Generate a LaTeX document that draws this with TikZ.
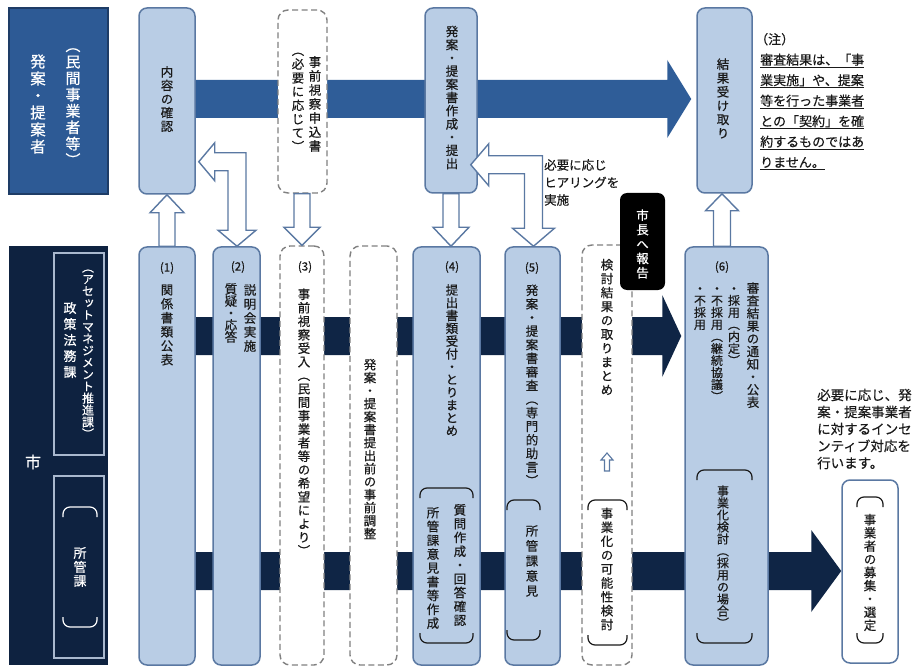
\documentclass[tikz,border=0pt]{standalone}
\usepackage{fontspec}
\setmainfont[FakeBold=0.5]{Noto Sans CJK JP}
\newfontfamily\vjp[RawFeature=+vert,FakeBold=0.5]{Noto Sans CJK JP}
\usetikzlibrary{calc}
\pgfdeclarelayer{bg}
\pgfsetlayers{bg,main}
\definecolor{lbf}{HTML}{B9CDE5}
\definecolor{bdc}{HTML}{5A78A2}
\definecolor{dgc}{HTML}{808080}
\definecolor{txc}{HTML}{1A1A1A}
\definecolor{hdf}{HTML}{2D5A95}
\definecolor{hdb}{HTML}{1E3C66}
\definecolor{nvf}{HTML}{0E2240}
\definecolor{ibc}{HTML}{A9B8CE}
\definecolor{tbar}{HTML}{2F5D98}
\definecolor{nbar}{HTML}{0F2545}
\newdimen\vtpitch
\newcommand\vtend{VTEND}
\newcommand\vtloop[1]{\ifx\vtend#1\else\hbox to 1em{\hss#1\hss}\expandafter\vtloop\fi}
\newcommand\vt[2][1.08em]{\vjp\vtpitch=#1\relax\vbox{\baselineskip=\vtpitch\lineskiplimit=-100pt\lineskip=0pt\vtloop#2\vtend}}
% outline arrows
\newcommand\oup[6][]{\draw[oarr,#1] let \p1=(#2), \p2=(#3) in (\x2-#4pt,\y1) -- (\x2-#4pt,\y2-#6pt) -- (\x2-#5pt,\y2-#6pt) -- (\x2,\y2) -- (\x2+#5pt,\y2-#6pt) -- (\x2+#4pt,\y2-#6pt) -- (\x2+#4pt,\y1) -- cycle;}
\newcommand\odown[6][]{\draw[oarr,#1] let \p1=(#2), \p2=(#3) in (\x2-#4pt,\y1) -- (\x2-#4pt,\y2+#6pt) -- (\x2-#5pt,\y2+#6pt) -- (\x2,\y2) -- (\x2+#5pt,\y2+#6pt) -- (\x2+#4pt,\y2+#6pt) -- (\x2+#4pt,\y1) -- cycle;}
\newcommand\obent[5]{\draw[oarr] let \p1=(#1), \p2=(#2) in (\x2,\y2) -- (\x2+#5pt,\y2+#4pt) -- (\x2+#5pt,\y2+#3pt) -- (\x1+#3pt,\y2+#3pt) -- (\x1+#3pt,\y1+#5pt) -- (\x1+#4pt,\y1+#5pt) -- (\x1,\y1) -- (\x1-#4pt,\y1+#5pt) -- (\x1-#3pt,\y1+#5pt) -- (\x1-#3pt,\y2-#3pt) -- (\x2+#5pt,\y2-#3pt) -- (\x2+#5pt,\y2-#4pt) -- cycle;}
% bracket pair
\newcommand\brkpair[5][]{\draw[brk,#1] (#2,#3+10) -- (#2,#3) -- (#4,#3) -- (#4,#3+10); \draw[brk,#1] (#2,#5-10) -- (#2,#5) -- (#4,#5) -- (#4,#5-10);}
\begin{document}
\begin{tikzpicture}[x=1pt,y=-1pt,
  lbox/.style={draw=bdc, fill=lbf, line width=1.5pt, rounded corners=8pt, inner sep=0pt},
  dbox/.style={draw=dgc, fill=white, line width=1.4pt, dash pattern=on 6pt off 3.5pt, rounded corners=10pt, inner sep=0pt},
  vtx/.style={inner sep=0pt, text=txc, font=\fontsize{12.5}{15}\selectfont},
  wtx/.style={vtx, text=white},
  lbl/.style={inner sep=0pt, text=txc, font=\fontsize{11.5}{13}\selectfont},
  note/.style={inner sep=0pt, text=txc, align=left, anchor=west},
  oarr/.style={draw=bdc, fill=white, line width=1.4pt, line join=miter},
  brk/.style={draw=txc, line width=1.2pt, rounded corners=7pt},
]
\useasboundingbox (0,0) rectangle (914,666);

% ---- header left boxes
\node[draw=hdb, fill=hdf, line width=1.5pt, minimum width=99, minimum height=186, inner sep=0pt] (hA) at (58.5,101) {};
\node[wtx, font=\fontsize{15.5}{18}\selectfont] (hA1) at (38,104) {\vt[17pt]{発案・提案者}};
\node[wtx, font=\fontsize{15}{18}\selectfont] (hA2) at (73,107) {\vt[16.4pt]{︵民間事業者等︶}};

\node[fill=nvf, minimum width=99, minimum height=419, inner sep=0pt] (hB) at (58.5,455.5) {};
\node[draw=ibc, line width=1.5pt, minimum width=50, minimum height=202, inner sep=0pt] (s1) at (79,354) {};
\node[draw=ibc, line width=1.5pt, minimum width=50, minimum height=182, inner sep=0pt] (s2) at (79,567) {};
\node[wtx, font=\fontsize{12}{14}\selectfont] (s1a) at (88,354) {\vt[11.9pt]{︵アセットマネジメント推進課︶}};
\node[wtx, font=\fontsize{13}{15}\selectfont] (s1b) at (70,340) {\vt[16pt]{政策法務課}};
\node[wtx, font=\fontsize{16}{18}\selectfont] (city) at (33,462) {市};
\node[wtx, font=\fontsize{13}{15}\selectfont] (s2a) at (80,567) {\vt[14pt]{所管課}};
\brkpair[draw=white]{63}{507}{97}{627}

% ---- top row
\node[lbox, minimum width=56, minimum height=186] (t1) at (167,101) {};
\node[vtx] (t1x) at (167,99) {\vt[13.6pt]{内容の確認}};
\node[dbox, minimum width=49, minimum height=183] (t2) at (302.5,101.5) {};
\node[vtx] (t2a) at (315,104) {\vt[14pt]{事前視察申込書}};
\node[vtx] (t2b) at (298,102) {\vt[13.75pt]{︵必要に応じて︶}};
\node[lbox, minimum width=52, minimum height=185] (t3) at (451,100.5) {};
\node[vtx] (t3x) at (452,97.5) {\vt[13.2pt]{発案・提案書作成・提出}};
\node[lbox, minimum width=55, minimum height=185] (t4) at (724.5,100.5) {};
\node[vtx] (t4x) at (723,98.5) {\vt[13.8pt]{結果受け取り}};

% ---- bottom row
\node[lbox, minimum width=56, minimum height=418] (b1) at (167,456) {};
\node[lbox, minimum width=47, minimum height=418] (b2) at (236.5,456) {};
\node[dbox, minimum width=44, minimum height=419] (b3) at (302,455.5) {};
\node[dbox, minimum width=47, minimum height=419] (bd) at (373.5,455.5) {};
\node[lbox, minimum width=67, minimum height=418] (b4) at (446.5,456) {};
\node[lbox, minimum width=55, minimum height=418] (b5) at (532.5,456) {};
\node[dbox, minimum width=50, minimum height=420] (bk) at (607,455) {};
\node[fill=black, rounded corners=7pt, minimum width=45, minimum height=97, inner sep=0pt] (mayor) at (642.5,241.5) {};
\node[lbox, minimum width=83, minimum height=418] (b6) at (726.5,456) {};
\node[draw=bdc, fill=white, line width=1.5pt, rounded corners=8pt, minimum width=56, minimum height=183, inner sep=0pt] (b7) at (870,571.5) {};

% bars behind
\begin{pgfonlayer}{bg}
\coordinate (r1s) at (160,336);
\coordinate (r2s) at (160,571);
\fill[tbar] let \p1=($(t1.east)+(0,-2)$), \p2=($(t4.west)+(-5,0)$) in
  (\x1,\y1+19pt) -- (\x2-24pt,\y1+19pt) -- (\x2-24pt,\y1+39pt) -- (\x2,\y1) -- (\x2-24pt,\y1-39pt) -- (\x2-24pt,\y1-19pt) -- (\x1,\y1-19pt) -- cycle;
\fill[nbar] let \p1=(r1s), \p2=($(b6.west)+(-3,0)$) in
  (\x1,\y1+19pt) -- (\x2-19pt,\y1+19pt) -- (\x2-19pt,\y1+41pt) -- (\x2,\y1) -- (\x2-19pt,\y1-41pt) -- (\x2-19pt,\y1-19pt) -- (\x1,\y1-19pt) -- cycle;
\fill[nbar] let \p1=(r2s), \p2=(b7.west) in
  (\x1,\y1+19pt) -- (\x2-30pt,\y1+19pt) -- (\x2-30pt,\y1+41pt) -- (\x2,\y1) -- (\x2-30pt,\y1-41pt) -- (\x2-30pt,\y1-19pt) -- (\x1,\y1-19pt) -- cycle;
\end{pgfonlayer}

% ---- bottom texts
\node[lbl] (b1n) at (167,268) {(1)};
\node[vtx] (b1x) at (167,325) {\vt[14pt]{関係書類公表}};
\node[lbl] (b2n) at (238,267) {(2)};
\node[vtx] (b2a) at (250,318) {\vt[14pt]{説明会実施}};
\node[vtx] (b2b) at (231,313) {\vt[12pt]{質疑・応答}};
\node[lbl] (b3n) at (305,267) {(3)};
\node[vtx] (b3x) at (304,422) {\vt[13.5pt]{事前視察受入︵民間事業者等の希望により︶}};
\node[vtx] (bdx) at (370,449) {\vt[13pt]{発案・提案書提出前の事前調整}};
\node[lbl] (b4n) at (452,267) {(4)};
\node[vtx] (b4x) at (452,360) {\vt[12.8pt]{提出書類受付・とりまとめ}};
\brkpair{420}{488}{473}{643}
\node[vtx] (b4a) at (460,565) {\vt[13.8pt]{質問作成・回答確認}};
\node[vtx] (b4b) at (433,568) {\vt[13.8pt]{所管課意見書等作成}};
\node[lbl] (b5n) at (532,268) {(5)};
\node[vtx] (b5x) at (532,385) {\vt[13.6pt]{発案・提案書審査︵専門的助言︶}};
\brkpair{507}{500}{540}{640}
\node[vtx] (b5a) at (532,561) {\vt[15pt]{所管課意見}};
\node[vtx] (bkx) at (607,327) {\vt[13.9pt]{検討結果の取りまとめ}};
\coordinate (sa) at (607,462);
\oup[line width=1.1pt]{$(sa)+(0,9)$}{$(sa)+(0,-9)$}{2.5}{6}{7}
\brkpair{588}{500}{627}{645}
\node[vtx] (bka) at (607,569) {\vt[13.9pt]{事業化の可能性検討}};
\node[wtx] (mayx) at (642.5,244) {\vt[14.4pt]{市長へ報告}};
\node[lbl] (b6n) at (722,267) {(6)};
\node[vtx, anchor=north] (b6a) at (753,282) {\vt[12.7pt]{審査結果の通知・公表}};
\node[vtx, font=\fontsize{12}{14}\selectfont, anchor=north] (b6b) at (734,287) {\vt[12pt]{・採用︵内定︶}};
\node[vtx, font=\fontsize{12}{14}\selectfont, anchor=north] (b6c) at (717,287) {\vt[12pt]{・不採用︵継続協議︶}};
\node[vtx, font=\fontsize{12}{14}\selectfont, anchor=north] (b6d) at (700,287) {\vt[12pt]{・不採用}};
\brkpair{697}{470}{752}{643}
\node[vtx, font=\fontsize{12}{14}\selectfont] (b6e) at (723,556.5) {\vt[12pt]{事業化検討︵採用の場合︶}};
\brkpair{857}{497}{883}{643}
\node[vtx] (b7x) at (870,572.5) {\vt[13.2pt]{事業者の募集・選定}};

% ---- outline arrows
\oup{b1.north}{t1.south}{8}{17}{18}
\obent{$(b2.north)+(0.5,0)$}{$(t1.south east)+(3,-33)$}{9}{19}{16}
\odown{t2.south}{b3.north}{8}{18}{18}
\odown{t3.south}{$(b4.north)+(4.5,0)$}{8}{18}{19}
\obent{$(b5.north)+(1,0)$}{$(t3.south east)+(-7,-29)$}{9}{21}{18}
\oup{$(b6.north)+(-4.5,0)$}{$(t4.south)+(-2.5,0)$}{8.5}{16.5}{17}

% ---- notes
\node[note, font=\fontsize{13}{20.5}\selectfont] (n1) at (760,101.5) {\kern-5pt（注）\\\underline{審査結果は、「事}\\\underline{業実施」や、提案}\\\underline{等を行った事業者}\\\underline{との「契約」を確}\\\underline{約するものではあ}\\\underline{りません。}};
\node[note, font=\fontsize{13.5}{17}\selectfont] (n2) at (817,429) {必要に応じ、発\\案・提案事業者\\に対するインセ\\ンティブ対応を\\行います。};
\node[note, font=\fontsize{12.5}{17.5}\selectfont] (n3) at (544,182.5) {必要に応じ\\ヒアリングを\\実施};
\end{tikzpicture}
\end{document}
